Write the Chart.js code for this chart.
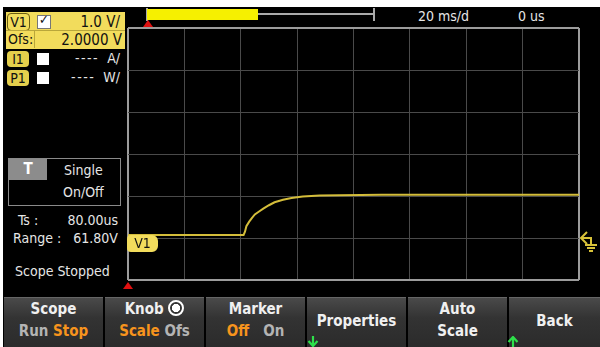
<!DOCTYPE html>
<html>
<head>
<meta charset="utf-8">
<script src="https://cdn.jsdelivr.net/npm/chart.js@4.4.1/dist/chart.umd.min.js"></script>
<style>
    body { margin: 0; background: #fff; width: 600px; height: 347px; overflow: hidden; position: relative;
           font-family: "Liberation Sans Narrow", "DejaVu Sans Condensed", "Roboto", sans-serif; }
    .abs { position: absolute; white-space: nowrap; }
    #screen { left: 3px; top: 7px; width: 597px; height: 340px; background: #000; }
    #plot { position: absolute; left: 0; top: 0; z-index: 2; }
    .tag { background: #f2dc5c; color: #111; border-radius: 4px; font-size: 14px; text-align: center; line-height: 17px; }
    .chk { background: #fff; width: 12px; height: 12px; }
    .wt { color: #e6e6e6; font-size: 14px; }
    .key { top: 297px; width: 99px; height: 50px; background: linear-gradient(#4a4a4a, #333 40%, #2b2b2b);
           border-top: 1px solid #666; color: #f0f0f0; font-weight: bold; font-size: 15px; text-align: center; }
    .key div { position: absolute; left: 0; right: 0; }
    .or { color: #f7941d; }
    .gy { color: #b4b4b4; }
</style>
</head>
<body>
<div class="abs" id="screen"></div>

<!-- channel panel -->
<div class="abs" style="left:6px;top:12px;width:119px;height:37px;background:#f2dc5c;"></div>
<div class="abs tag" style="left:7px;top:13px;width:21px;height:16px;border:1px solid #6b5d10;">V1</div>
<div class="abs chk" style="left:37px;top:15px;border:1px solid #777;"></div>
<div class="abs" style="left:39px;top:12px;font-size:13px;color:#111;">&#10003;</div>
<div class="abs" style="right:480px;top:13px;font-size:15px;color:#111;">1.0 V/</div>
<div class="abs" style="left:6px;top:30px;width:119px;border-top:1px solid #b9a63a;"></div>
<div class="abs" style="left:8px;top:31px;font-size:14px;color:#111;">Ofs:</div>
<div class="abs" style="left:34px;top:31px;height:17px;border-left:1px solid #b9a63a;"></div>
<div class="abs" style="right:478px;top:31px;font-size:15px;color:#111;">2.0000 V</div>

<div class="abs tag" style="left:7px;top:51px;width:22px;height:16px;background:#e4cf4c;">I1</div>
<div class="abs chk" style="left:37px;top:53px;"></div>
<div class="abs wt" style="right:480px;top:50px;"><span style="letter-spacing:1.5px;">----</span>&nbsp; A/</div>
<div class="abs tag" style="left:7px;top:70px;width:22px;height:16px;background:#e4cf4c;">P1</div>
<div class="abs chk" style="left:37px;top:72px;"></div>
<div class="abs wt" style="right:480px;top:69px;"><span style="letter-spacing:1.5px;">----</span>&nbsp; W/</div>

<!-- trigger box -->
<div class="abs" style="left:8px;top:158px;width:111px;height:46px;border:1px solid #8a8a8a;"></div>
<div class="abs" style="left:9px;top:159px;width:38px;height:21px;background:#8c8c8c;color:#fff;font-weight:bold;font-size:15px;text-align:center;line-height:21px;">T</div>
<div class="abs wt" style="left:64px;top:162px;">Single</div>
<div class="abs wt" style="left:63px;top:184px;">On/Off</div>
<div class="abs wt" style="left:18px;top:212px;">Ts :</div>
<div class="abs wt" style="right:482px;top:212px;">80.00us</div>
<div class="abs wt" style="left:13px;top:230px;">Range :</div>
<div class="abs wt" style="right:482px;top:230px;">61.80V</div>
<div class="abs wt" style="left:15px;top:263px;">Scope Stopped</div>

<!-- top bar -->
<div class="abs" style="left:146px;top:13px;width:228px;height:2px;background:#aaa;"></div>
<div class="abs" style="left:146px;top:8px;width:2px;height:13px;background:#aaa;"></div>
<div class="abs" style="left:373px;top:8px;width:2px;height:13px;background:#aaa;"></div>
<div class="abs" style="left:147px;top:9px;width:111px;height:11px;background:#f6f000;"></div>
<div class="abs" style="left:143px;top:20px;width:0;height:0;border-left:5px solid transparent;border-right:5px solid transparent;border-bottom:7px solid #e01010;"></div>
<div class="abs wt" style="left:418px;top:8px;">20 ms/d</div>
<div class="abs wt" style="left:518px;top:8px;">0 us</div>
<div class="abs" style="left:123px;top:282px;width:0;height:0;border-left:5px solid transparent;border-right:5px solid transparent;border-bottom:7px solid #e01010;z-index:3;"></div>

<!-- plot markers -->
<div class="abs tag" style="left:127px;top:235px;width:31px;height:17px;z-index:3;border-radius:4px 6px 6px 4px;">V1</div>
<svg class="abs" style="left:579px;top:229px;z-index:3;" width="21" height="24">
    <polyline points="8,3 2,9 8,15" fill="none" stroke="#d8c23a" stroke-width="2"/>
    <polyline points="2,9 12,9 12,16" fill="none" stroke="#d8c23a" stroke-width="2"/>
    <line x1="6" y1="16" x2="18" y2="16" stroke="#d8c23a" stroke-width="2"/>
    <line x1="8" y1="19" x2="16" y2="19" stroke="#d8c23a" stroke-width="2"/>
    <line x1="10" y1="22" x2="14" y2="22" stroke="#d8c23a" stroke-width="2"/>
</svg>

<!-- softkeys -->
<div class="abs key" style="left:4px;"><div style="top:2px;">Scope</div><div style="top:24px;"><span class="gy">Run</span> <span class="or">Stop</span></div></div>
<div class="abs key" style="left:105px;"><div style="top:2px;">Knob <span style="display:inline-block;width:12px;height:12px;border:2px solid #fff;border-radius:50%;vertical-align:-2px;background:radial-gradient(#fff 45%, #333 52%);"></span></div><div style="top:24px;"><span class="or">Scale</span> <span class="gy">Ofs</span></div></div>
<div class="abs key" style="left:206px;"><div style="top:2px;">Marker</div><div style="top:24px;"><span class="or">Off</span>&nbsp;&nbsp; <span class="gy">On</span></div></div>
<div class="abs key" style="left:307px;"><div style="top:14px;">Properties</div></div>
<div class="abs key" style="left:408px;"><div style="top:2px;">Auto</div><div style="top:24px;">Scale</div></div>
<div class="abs key" style="left:509px;width:91px;"><div style="top:14px;">Back</div></div>
<svg class="abs" style="left:307px;top:336px;z-index:3;" width="12" height="11">
    <line x1="6" y1="0" x2="6" y2="10" stroke="#2ee04a" stroke-width="2.2"/>
    <polyline points="1.5,5 6,10 10.5,5" fill="none" stroke="#2ee04a" stroke-width="2.2"/>
</svg>
<svg class="abs" style="left:507px;top:336px;z-index:3;" width="12" height="11">
    <line x1="6" y1="1" x2="6" y2="11" stroke="#2ee04a" stroke-width="2.2"/>
    <polyline points="1.5,6 6,1 10.5,6" fill="none" stroke="#2ee04a" stroke-width="2.2"/>
</svg>

<canvas id="plot" width="600" height="347"></canvas>

<script>
// Trace samples (time in ms, 20 ms/div; volts, 1 V/div, offset 2 V).
const timeMs = [0, 10, 20, 30, 41, 41.5, 42, 43, 44, 45, 46.5, 48, 50, 52, 55, 58, 62, 68, 75, 90, 110, 130, 160];
const voltage = [0.07, 0.07, 0.07, 0.07, 0.07, 0.15, 0.28, 0.39, 0.48, 0.56, 0.63, 0.70, 0.78, 0.85, 0.91, 0.95, 0.99, 1.01, 1.02, 1.03, 1.03, 1.03, 1.03];

// Screen grid: 8 x 6 divisions.
const xMin = 0, xMax = 160, xStep = 20;
const yMin = -1, yMax = 5, yStep = 1;

function Edge(v, lo, hi) { return v === lo || v === hi; }

const ctx = document.getElementById('plot');

new Chart(ctx, {
    type: 'line',
    data: {
        datasets: [{
            data: timeMs.map((t, i) => ({ x: t, y: voltage[i] })),
            borderColor: '#d4bd3a',
            borderWidth: 2,
            pointRadius: 0,
            tension: 0,
            fill: false
        }]
    },
    options: {
        responsive: false,
        animation: false,
        events: [],
        layout: { padding: { left: 128, right: 21, top: 28, bottom: 67 } },
        plugins: { legend: { display: false }, tooltip: { enabled: false } },
        scales: {
            x: {
                type: 'linear', min: xMin, max: xMax,
                ticks: { display: false, stepSize: xStep },
                border: { display: false },
                grid: {
                    drawTicks: false,
                    color: c => Edge(c.tick.value, xMin, xMax) ? '#9c9c9c' : '#4a4a4a',
                    lineWidth: c => Edge(c.tick.value, xMin, xMax) ? 2 : 1
                },
                afterFit: s => { s.height = 0; }
            },
            y: {
                min: yMin, max: yMax,
                ticks: { display: false, stepSize: yStep },
                border: { display: false },
                grid: {
                    drawTicks: false,
                    color: c => Edge(c.tick.value, yMin, yMax) ? '#9c9c9c' : '#4a4a4a',
                    lineWidth: c => Edge(c.tick.value, yMin, yMax) ? 2 : 1
                },
                afterFit: s => { s.width = 0; }
            }
        }
    }
});
</script>
</body>
</html>
